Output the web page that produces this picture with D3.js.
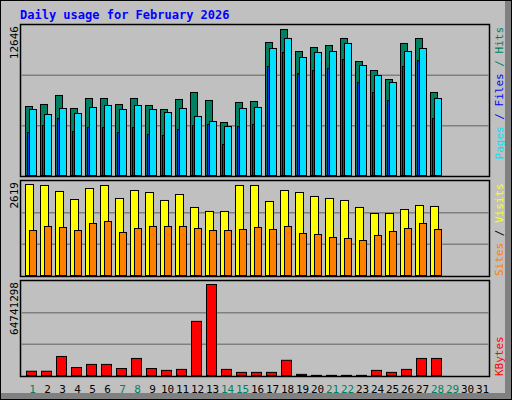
<!DOCTYPE html>
<html><head><meta charset="utf-8">
<script src="https://cdn.jsdelivr.net/npm/d3@7"></script>
<style>body{margin:0;background:#fff}svg{display:block}</style>
</head><body><svg id="c" width="512" height="400"></svg>
<script>
const days = d3.range(1, 32);
const weekendDays = [1,7,8,14,15,21,22,28,29];
const hits  = [5864,6031,6785,5696,6534,6534,6031,6534,5948,5612,6450,7036,6366,4523,6199,6282,11223,12311,10469,10804,10972,11558,9631,8877,8123,11140,11558,7036];
const files = [5612,5193,5696,5277,5780,5948,5612,5948,5612,5361,5696,5026,4606,4188,5696,5780,10720,11558,9966,10385,10469,11140,9296,8458,7873,10469,10720,6534];
const pages = [3685,4271,4858,3769,4104,4104,3685,4104,3518,3434,3936,4271,4355,2680,4188,4355,9212,10385,8625,8877,9045,9799,7873,7036,6366,9212,9715,4858];
const visits= [2619,2591,2420,2192,2505,2591,2221,2448,2391,2164,2334,1965,1851,1851,2591,2591,2135,2448,2391,2278,2221,2164,1965,1793,1793,1907,2021,1993];
const sites = [1309,1424,1395,1309,1509,1566,1253,1366,1424,1424,1424,1366,1309,1309,1338,1395,1338,1424,1224,1196,1110,1082,1025,1167,1281,1366,1509,1338];
const kbytes= [3700000,3700000,14100000,6300000,8500000,8500000,5600000,12700000,5600000,4300000,5000000,38800000,64741298,5000000,2900000,2900000,2900000,11400000,1500000,800000,800000,800000,800000,4300000,2900000,5000000,12700000,12700000];
const maxHits = 12646, maxVisits = 2619, maxKB = 64741298;

const svg = d3.select("#c");
const mono = "DejaVu Sans Mono, monospace";
svg.append("rect").attr("x",0).attr("y",0).attr("width",512).attr("height",400).attr("fill","#c0c0c0");
svg.append("rect").attr("x",505).attr("y",0).attr("width",7).attr("height",400).attr("fill","#808080");
svg.append("rect").attr("x",0).attr("y",393).attr("width",512).attr("height",7).attr("fill","#808080");
svg.append("rect").attr("x",0.5).attr("y",0.5).attr("width",511).attr("height",399).attr("fill","none").attr("stroke","#000");
svg.append("text").attr("x",20).attr("y",19).attr("fill","#0000ff").attr("font-family",mono).attr("font-weight","bold").attr("font-size",12).text("Daily usage for February 2026");

const x = d3.scaleBand().domain(days).range([22,487]).paddingInner(0);
const panels = [{top:25,bot:176},{top:181,bot:276},{top:281,bot:376}];
panels.forEach(p=>{
  svg.append("rect").attr("x",20.5).attr("y",p.top-0.5).attr("width",469).attr("height",p.bot-p.top+1).attr("fill","#c0c0c0").attr("stroke","#000").attr("stroke-width",1.5);
});
function grid(p){
  const h=(p.bot-p.top)/3;
  [1,2].forEach(k=>svg.append("line").attr("x1",21).attr("x2",489).attr("y1",p.bot-h*k).attr("y2",p.bot-h*k).attr("stroke","#808080").attr("stroke-width",1.5));
}
panels.forEach(grid);

function bars(data, scale, off, w, color){
  svg.append("g").selectAll("rect").data(data).join("rect")
    .attr("x",(d,i)=>x(i+1)+off+0.5).attr("width",w)
    .attr("y",d=>scale(d)+0.5).attr("height",d=>scale(0)-scale(d)-1)
    .attr("fill",color).attr("stroke","#000").attr("stroke-width",1);
}
const y1 = d3.scaleLinear().domain([0,maxHits]).range([176,25]);
const y2 = d3.scaleLinear().domain([0,maxVisits]).range([276,184]);
const y3 = d3.scaleLinear().domain([0,maxKB]).range([376,284]);
bars(hits,y1,3,7,"#008060");
bars(files,y1,7,7,"#00e0ff");
bars(pages,y1,5,2,"#0040ff");
bars(visits,y2,3,8,"#ffff00");
bars(sites,y2,7,7,"#ff8000");
bars(kbytes,y3,4,10,"#ff0000");

function vlabel(xp,yp,txt,anchor){
  return svg.append("text").attr("transform",`translate(${xp},${yp}) rotate(-90)`).attr("text-anchor",anchor).attr("font-family",mono).attr("font-size",11);
}
vlabel(18,26,"","end").attr("fill","#000").text(maxHits);
vlabel(18,182,"","end").attr("fill","#000").text(maxVisits);
vlabel(18,282,"","end").attr("fill","#000").text(maxKB);

const t1=vlabel(503,27,"","end");
t1.append("tspan").attr("fill","#00e0ff").text("Pages");
t1.append("tspan").attr("fill","#0000ff").text(" / Files");
t1.append("tspan").attr("fill","#008060").text(" / Hits");
const t2=vlabel(503,276,"","start");
t2.append("tspan").attr("fill","#ff8000").text("Sites");
t2.append("tspan").attr("fill","#000").text(" / ");
t2.append("tspan").attr("fill","#ffff00").text("Visits");
vlabel(503,376,"","start").attr("fill","#ff0000").text("KBytes");

svg.append("g").selectAll("text").data(days).join("text")
  .attr("x",d=>x(d)+x.bandwidth()/2+3).attr("y",393).attr("text-anchor","middle")
  .attr("font-family",mono).attr("font-size",11)
  .attr("fill",d=>weekendDays.includes(d)?"#008060":"#000").text(d=>d);
</script></body></html>
